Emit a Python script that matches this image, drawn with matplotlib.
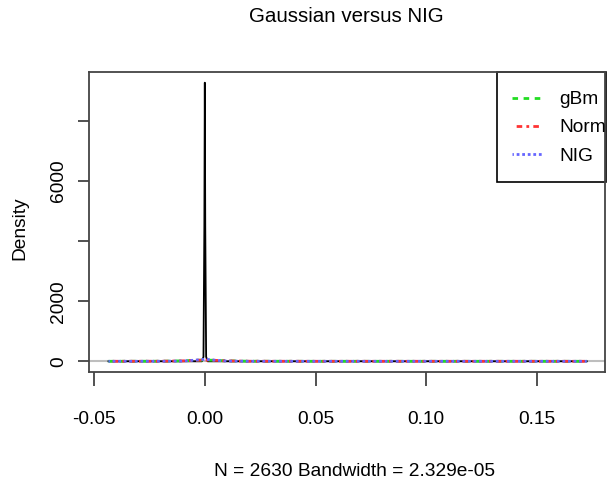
import numpy as np
import matplotlib
matplotlib.use("Agg")
import matplotlib.pyplot as plt
from matplotlib.patches import Rectangle

plt.rcParams['font.family'] = ['Liberation Sans', 'DejaVu Sans']

# kernel density of the returns (black curve)
kde_x = [-0.0435, -0.0013, -0.0006, -0.0002, 0.0, 0.0002, 0.0006, 0.0013, 0.1725]
kde_y = [0.0, 0.0, 150.0, 4500.0, 9275.0, 4500.0, 150.0, 0.0, 0.0]

# fitted densities (tiny at this scale)
fit_x = [-0.0435, -0.02, -0.01, -0.004, 0.0, 0.004, 0.01, 0.02, 0.05, 0.1, 0.1725]
gbm = [0.0, 2.0, 15.0, 35.0, 40.0, 35.0, 15.0, 2.0, 0.0, 0.0, 0.0]
norm = [0.0, 2.0, 14.0, 34.0, 39.0, 34.0, 14.0, 2.0, 0.0, 0.0, 0.0]
nig = [0.0, 1.0, 8.0, 40.0, 70.0, 40.0, 8.0, 1.0, 0.0, 0.0, 0.0]

xticks = [-0.05, 0.00, 0.05, 0.10, 0.15]
xlabels = ["-0.05", "0.00", "0.05", "0.10", "0.15"]
yticks = [0, 2000, 4000, 6000, 8000]
ylabels = ["0", "2000", "", "6000", ""]

fs = 13.8

fig = plt.figure(figsize=(6.07, 4.84), dpi=100)
ax = fig.add_axes([89/607, 1-371.7/484, 515.7/607, 299.4/484])

ax.plot(kde_x, kde_y, color="black", lw=1.3)
ax.axhline(0, color="#BEBEBE", lw=1.5, zorder=0)
ax.plot(fit_x, gbm, color="#22DD22", lw=2.0, ls=(0, (2, 2)), label="gBm")
ax.plot(fit_x, norm, color="#FF3333", lw=2.0, ls=(1, (1, 1.5, 2, 1.5)), label="Norm")
ax.plot(fit_x, nig, color="#6666FF", lw=2.0, ls=(0.5, (1, 1)), label="NIG")

ax.set_xlim(-0.0523, 0.1806)
ax.set_ylim(-346, 9621)

ax.set_xticks(xticks)
ax.set_xticklabels(xlabels)
ax.set_yticks(yticks)
ax.set_yticklabels(ylabels, rotation=90, va="center")
ax.tick_params(axis="x", length=10, width=1.2, pad=18.5, labelsize=fs, color="#333333")
ax.tick_params(axis="y", length=7.7, width=1.2, pad=7.8, labelsize=fs, color="#333333")
for s in ax.spines.values():
    s.set_color("#444444")
    s.set_linewidth(1.3)

leg = ax.legend(loc="upper left", bbox_to_anchor=((512-89)/515.7, (371.7-90.9)/299.4),
                borderaxespad=0, borderpad=0, frameon=False, fontsize=fs,
                handlelength=1.55, handletextpad=0.9, labelspacing=0.56)
ax.add_patch(Rectangle((0.7917, 0.6326), 0.2108, 0.3674, transform=ax.transAxes,
                       fill=False, edgecolor="black", lw=1.2, clip_on=False))

fig.text(346.5/607, 1-16/484, "Gaussian versus NIG", ha="center", va="center", fontsize=14.8)
fig.text(354/607, 1-471.5/484, "N = 2630 Bandwidth = 2.329e-05", ha="center", va="center", fontsize=fs)
fig.text(20/607, 1-228/484, "Density", ha="center", va="center", rotation=90, fontsize=fs)

fig.savefig("out.png", dpi=100)
